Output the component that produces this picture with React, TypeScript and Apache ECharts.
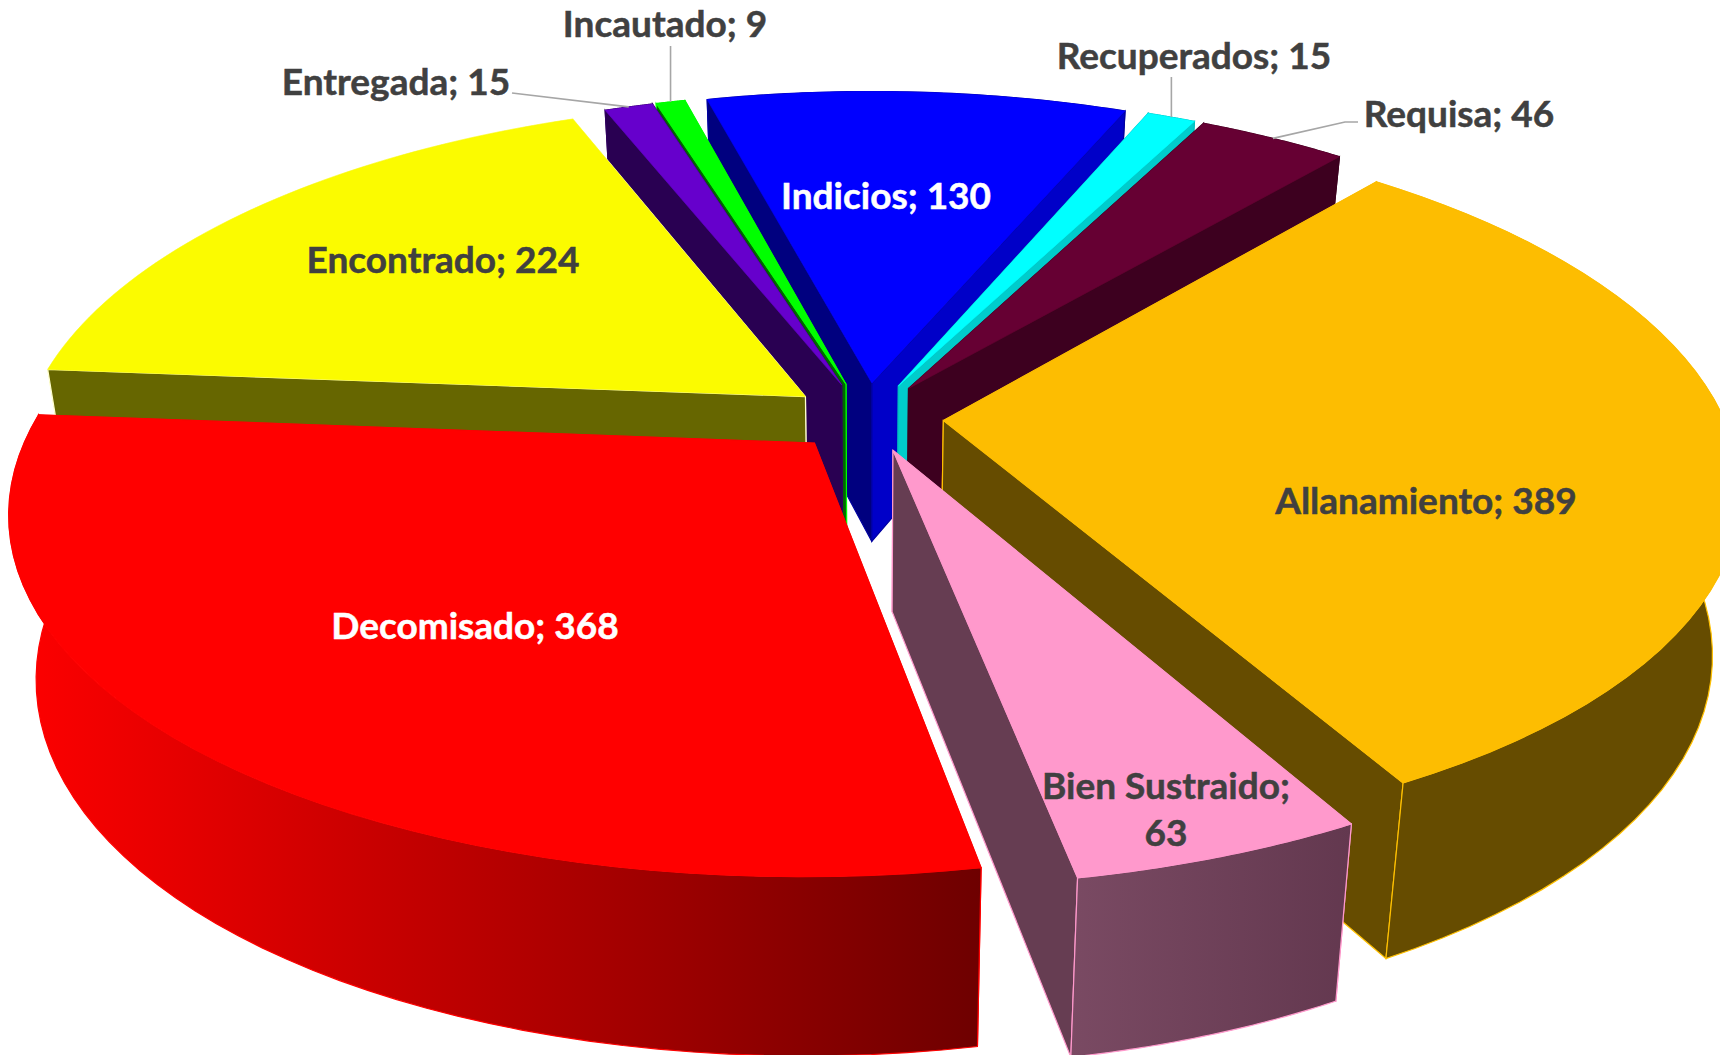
import React, { useEffect, useRef } from "react";
import * as echarts from "echarts";

const categories = ["Allanamiento", "Bien Sustraido", "Decomisado", "Encontrado", "Entregada", "Incautado", "Indicios", "Recuperados", "Requisa"];
const values = [389, 63, 368, 224, 15, 9, 130, 15, 46];
const topColors = ["#FDBD01", "#FF99CC", "#FF0000", "#FBFB00", "#6600CC", "#00FF00", "#0000FF", "#00FFFF", "#660033"];
const startWallColors = ["#664C00", "#663D52", "#660000", "#666600", "#290052", "#006600", "#00007F", "#009999", "#3D001F"];
const endWallColors = ["#664C00", "#663D52", "#660000", "#666600", "#290052", "#00B000", "#0000C8", "#00CCCC", "#3D001F"];
const edgeColors = ["#FFC000", "#FF99CC", "#FF0000", "#FFFFD0", "#30005E", "#00FF00", "#0000A0", "#00C0C0", "#3D001F"];
const outerWallStops: string[][] = [
  ["#664C00", "#664C00"],
  ["#7A4A63", "#63384F"],
  ["#FF0000", "#6E0000"],
  ["#666600", "#666600"],
  ["#290052", "#290052"],
  ["#006600", "#006600"],
  ["#000099", "#000099"],
  ["#009999", "#009999"],
  ["#3D001F", "#3D001F"],
];
const lightLabels = ["Decomisado", "Indicios"];

const CX = 866.6;
const CY = 417;
const R = 780;
const TILT = 0.45;
const PERSP_X = 0.18;
const PERSP_Y = 0.168;
const PERSP_D = 0.1;
const EXPLODE = 77;
const DEPTH = 160;
const SHRINK = 0.968;
const START_DEG = 40.1;
const ARC_STEPS = 48;

const total = values.reduce((a, b) => a + b, 0);
const spans = values.map((_, i) => {
  const before = values.slice(0, i).reduce((a, b) => a + b, 0);
  const a0 = START_DEG + (before / total) * 360;
  const a1 = a0 + (values[i] / total) * 360;
  return [a0, a1];
});
const rad = (d: number) => (d * Math.PI) / 180;
const bisector = (i: number) => rad((spans[i][0] + spans[i][1]) / 2);
const drawOrder = values
  .map((_, i) => i)
  .sort((p, q) => -Math.cos(bisector(p)) - -Math.cos(bisector(q)));

function project(i: number, deg: number, r: number, bottom: boolean): number[] {
  const mid = bisector(i);
  const a = rad(deg);
  const x = EXPLODE * Math.sin(mid) + r * Math.sin(a);
  const y = -EXPLODE * Math.cos(mid) - r * Math.cos(a);
  let sx = x / (1 - (PERSP_X * y) / R);
  let sy = (y * TILT) / (1 - (PERSP_Y * y) / R);
  if (bottom) {
    sx *= SHRINK;
    sy += DEPTH / (1 - (PERSP_D * y) / R);
  }
  return [CX + sx, CY + sy];
}

function arcPoints(i: number, bottom: boolean): number[][] {
  const pts: number[][] = [];
  for (let s = 0; s <= ARC_STEPS; s++) {
    const d = spans[i][0] + ((spans[i][1] - spans[i][0]) * s) / ARC_STEPS;
    pts.push(project(i, d, R, bottom));
  }
  return pts;
}

function renderSlice(params: any) {
  const i = drawOrder[params.dataIndex];
  const top = arcPoints(i, false);
  const bot = arcPoints(i, true);
  const tipT = project(i, 0, 0, false);
  const tipB = project(i, 0, 0, true);
  const strokeStyle = { stroke: edgeColors[i], lineWidth: 1.2 };
  const poly = (points: number[][], fill: any) => ({
    type: "polygon",
    shape: { points },
    style: { fill, ...strokeStyle },
  });
  const wallStart = poly([tipT, top[0], bot[0], tipB], startWallColors[i]);
  const wallEnd = poly([tipT, top[ARC_STEPS], bot[ARC_STEPS], tipB], endWallColors[i]);
  const outerFill = new echarts.graphic.LinearGradient(0, 0, 1, 0, [
    { offset: 0, color: outerWallStops[i][0] },
    { offset: 1, color: outerWallStops[i][1] },
  ]);
  const outer = poly([...top, ...bot.slice().reverse()], outerFill);
  const face = {
    type: "polygon",
    shape: { points: [tipT, ...top] },
    style: { fill: topColors[i], stroke: topColors[i], lineWidth: 0.6 },
  };
  const startIsNearer = -Math.cos(rad(spans[i][0])) > -Math.cos(rad(spans[i][1]));
  const radial = startIsNearer ? [wallEnd, wallStart] : [wallStart, wallEnd];
  const facesBack = Math.cos(bisector(i)) > 0;
  const walls = facesBack ? [outer, ...radial] : [...radial, outer];
  return { type: "group", children: [...walls, face] };
}

const FONT = "bold 37px Lato";
const labelSpots: Record<string, number[]> = {
  Incautado: [665, 22],
  Entregada: [396, 80],
  Recuperados: [1194, 54],
  Requisa: [1459, 112],
  Indicios: [886, 194],
  Encontrado: [443, 258],
  Allanamiento: [1426, 499],
  Decomisado: [475, 624],
  "Bien Sustraido": [1166, 808],
};
const leaderStarts: Record<string, number[][]> = {
  Entregada: [[512, 93]],
  Incautado: [[668, 46]],
  Recuperados: [[1169, 77]],
  Requisa: [[1358, 122], [1345, 122]],
};
const verticalLeaders = ["Incautado", "Recuperados"];

function labelText(i: number) {
  const name = categories[i];
  return name === "Bien Sustraido" ? `${name};\n${values[i]}` : `${name}; ${values[i]}`;
}

function buildOption() {
  const labels = categories.map((name, i) => {
    const color = lightLabels.includes(name) ? "#FFFFFF" : "#404040";
    return {
      type: "text",
      x: labelSpots[name][0],
      y: labelSpots[name][1],
      z: 100,
      style: {
        text: labelText(i),
        font: FONT,
        lineHeight: 47,
        fill: color,
        stroke: color,
        lineWidth: 0.5,
        align: "center",
        verticalAlign: "middle",
      },
    };
  });
  const leaders = Object.keys(leaderStarts).map((name) => {
    const i = categories.indexOf(name);
    const end = project(i, (spans[i][0] + spans[i][1]) / 2, R, false);
    const starts = verticalLeaders.includes(name)
      ? leaderStarts[name].map((p) => [end[0], p[1]])
      : leaderStarts[name];
    return {
      type: "polyline",
      z: 99,
      shape: { points: [...starts, end] },
      style: { stroke: "#A6A6A6", lineWidth: 1.6, fill: "none" },
    };
  });
  return {
    animation: false,
    backgroundColor: "#FFFFFF",
    graphic: { elements: [...leaders, ...labels] },
    series: [
      {
        type: "custom",
        coordinateSystem: "none",
        silent: true,
        renderItem: renderSlice,
        data: drawOrder.map((i) => ({ name: categories[i], value: values[i] })),
      },
    ],
  };
}

export default function App() {
  const ref = useRef<HTMLDivElement>(null);
  useEffect(() => {
    const chart = echarts.init(ref.current!, undefined, { renderer: "svg" });
    chart.setOption(buildOption() as any);
    return () => chart.dispose();
  }, []);
  return <div ref={ref} style={{ position: "fixed", left: 0, top: 0, width: 1720, height: 1055 }} />;
}
